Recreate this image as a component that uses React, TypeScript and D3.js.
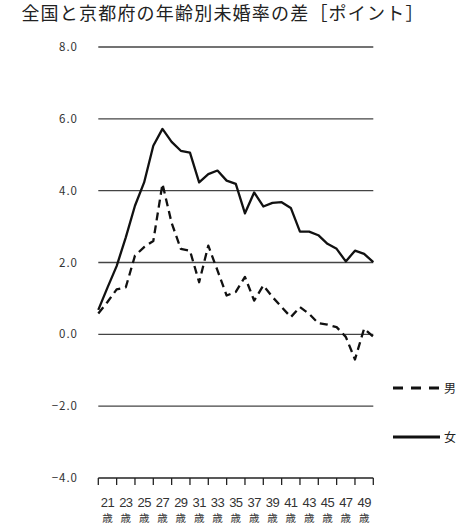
import { useEffect, useRef } from "react";
import * as d3 from "d3";

// 年齢 20〜50歳
const ages: number[] = d3.range(20, 51);
const female: number[] = [
  0.68, 1.3, 1.9, 2.7, 3.58, 4.23, 5.25, 5.72, 5.36, 5.11, 5.06, 4.23, 4.46, 4.56, 4.28,
  4.19, 3.37, 3.95, 3.56, 3.66, 3.68, 3.52, 2.86, 2.86, 2.76, 2.52, 2.38, 2.03, 2.33, 2.24, 2.01,
];
const male: number[] = [
  0.58, 0.9, 1.25, 1.31, 2.19, 2.43, 2.6, 4.19, 3.1, 2.38, 2.33, 1.45, 2.47, 1.78, 1.08,
  1.18, 1.6, 0.94, 1.36, 1.04, 0.76, 0.48, 0.76, 0.57, 0.31, 0.27, 0.2, -0.07, -0.7, 0.16, -0.07,
];
const yTicks: number[] = [8, 6, 4, 2, 0, -2, -4];
const labelAges: number[] = d3.range(21, 50, 2);
const tickAges: number[] = d3.range(20, 51, 2);
const series = [
  { name: "男", values: male, dash: "8,5" },
  { name: "女", values: female, dash: null },
];

const font = "'Noto Sans CJK JP', 'Noto Sans', sans-serif";

export default function App() {
  const ref = useRef<SVGSVGElement>(null);

  useEffect(() => {
    const svg = d3.select(ref.current);
    svg.selectAll("*").remove();

    const x = d3.scaleLinear().domain([20, 50]).range([98.3, 373.3]);
    const y = d3.scaleLinear().domain([-4, 8]).range([478, 47]);

    svg
      .append("text")
      .attr("x", 223)
      .attr("y", 20)
      .attr("text-anchor", "middle")
      .attr("font-family", font)
      .attr("font-size", 18)
      .attr("letter-spacing", 1.2)
      .attr("fill", "#222")
      .text("全国と京都府の年齢別未婚率の差［ポイント］");

    // grid lines
    svg
      .append("g")
      .selectAll("line")
      .data(yTicks)
      .join("line")
      .attr("x1", x(20))
      .attr("x2", x(50))
      .attr("y1", (d) => y(d))
      .attr("y2", (d) => y(d))
      .attr("stroke", (d) => (d === -4 ? "#222" : "#444"))
      .attr("stroke-width", 1.3);

    svg
      .append("g")
      .selectAll("text")
      .data(yTicks)
      .join("text")
      .attr("x", 78)
      .attr("y", (d) => y(d) + 4)
      .attr("text-anchor", "end")
      .attr("font-family", font)
      .attr("font-size", 11.5)
      .attr("letter-spacing", 1)
      .attr("fill", "#333")
      .text((d) => (d < 0 ? "−" : "") + Math.abs(d).toFixed(1));

    // x tick marks
    svg
      .append("g")
      .selectAll("line")
      .data(tickAges)
      .join("line")
      .attr("x1", (d) => x(d))
      .attr("x2", (d) => x(d))
      .attr("y1", y(-4))
      .attr("y2", y(-4) + 7)
      .attr("stroke", "#222")
      .attr("stroke-width", 1.3);

    // x labels: 年齢 on one line, 歳 below
    const xl = svg
      .append("g")
      .selectAll("text")
      .data(labelAges)
      .join("text")
      .attr("text-anchor", "middle")
      .attr("fill", "#333");
    xl.append("tspan")
      .attr("x", (d) => x(d))
      .attr("y", 506.5)
      .attr("font-family", "'Liberation Sans Narrow', 'Liberation Sans', sans-serif")
      .attr("font-size", 13)
      .attr("letter-spacing", -0.6)
      .text((d) => String(d));
    xl.append("tspan")
      .attr("x", (d) => x(d))
      .attr("y", 522)
      .attr("font-family", font)
      .attr("font-size", 10.5)
      .text("歳");

    const line = d3
      .line<number>()
      .x((_, i) => x(ages[i]))
      .y((d) => y(d));

    svg
      .append("g")
      .selectAll("path")
      .data(series)
      .join("path")
      .attr("d", (d) => line(d.values))
      .attr("fill", "none")
      .attr("stroke", "#111")
      .attr("stroke-width", 2.3)
      .attr("stroke-linejoin", "round")
      .attr("stroke-dasharray", (d) => d.dash);

    // legend
    const lg = svg
      .append("g")
      .selectAll("g")
      .data(series)
      .join("g")
      .attr("transform", (_, i) => `translate(393, ${388 + i * 49})`);
    lg.append("line")
      .attr("x1", 0)
      .attr("x2", 47)
      .attr("stroke", "#111")
      .attr("stroke-width", 3)
      .attr("stroke-dasharray", (d) => (d.dash ? "10,8" : null));
    lg.append("text")
      .attr("x", 51)
      .attr("y", 4.5)
      .attr("font-family", font)
      .attr("font-size", 12)
      .attr("fill", "#222")
      .text((d) => d.name);
  }, []);

  return (
    <svg
      ref={ref}
      width={471}
      height={526}
      style={{ display: "block", position: "absolute", left: 0, top: 0 }}
    />
  );
}
